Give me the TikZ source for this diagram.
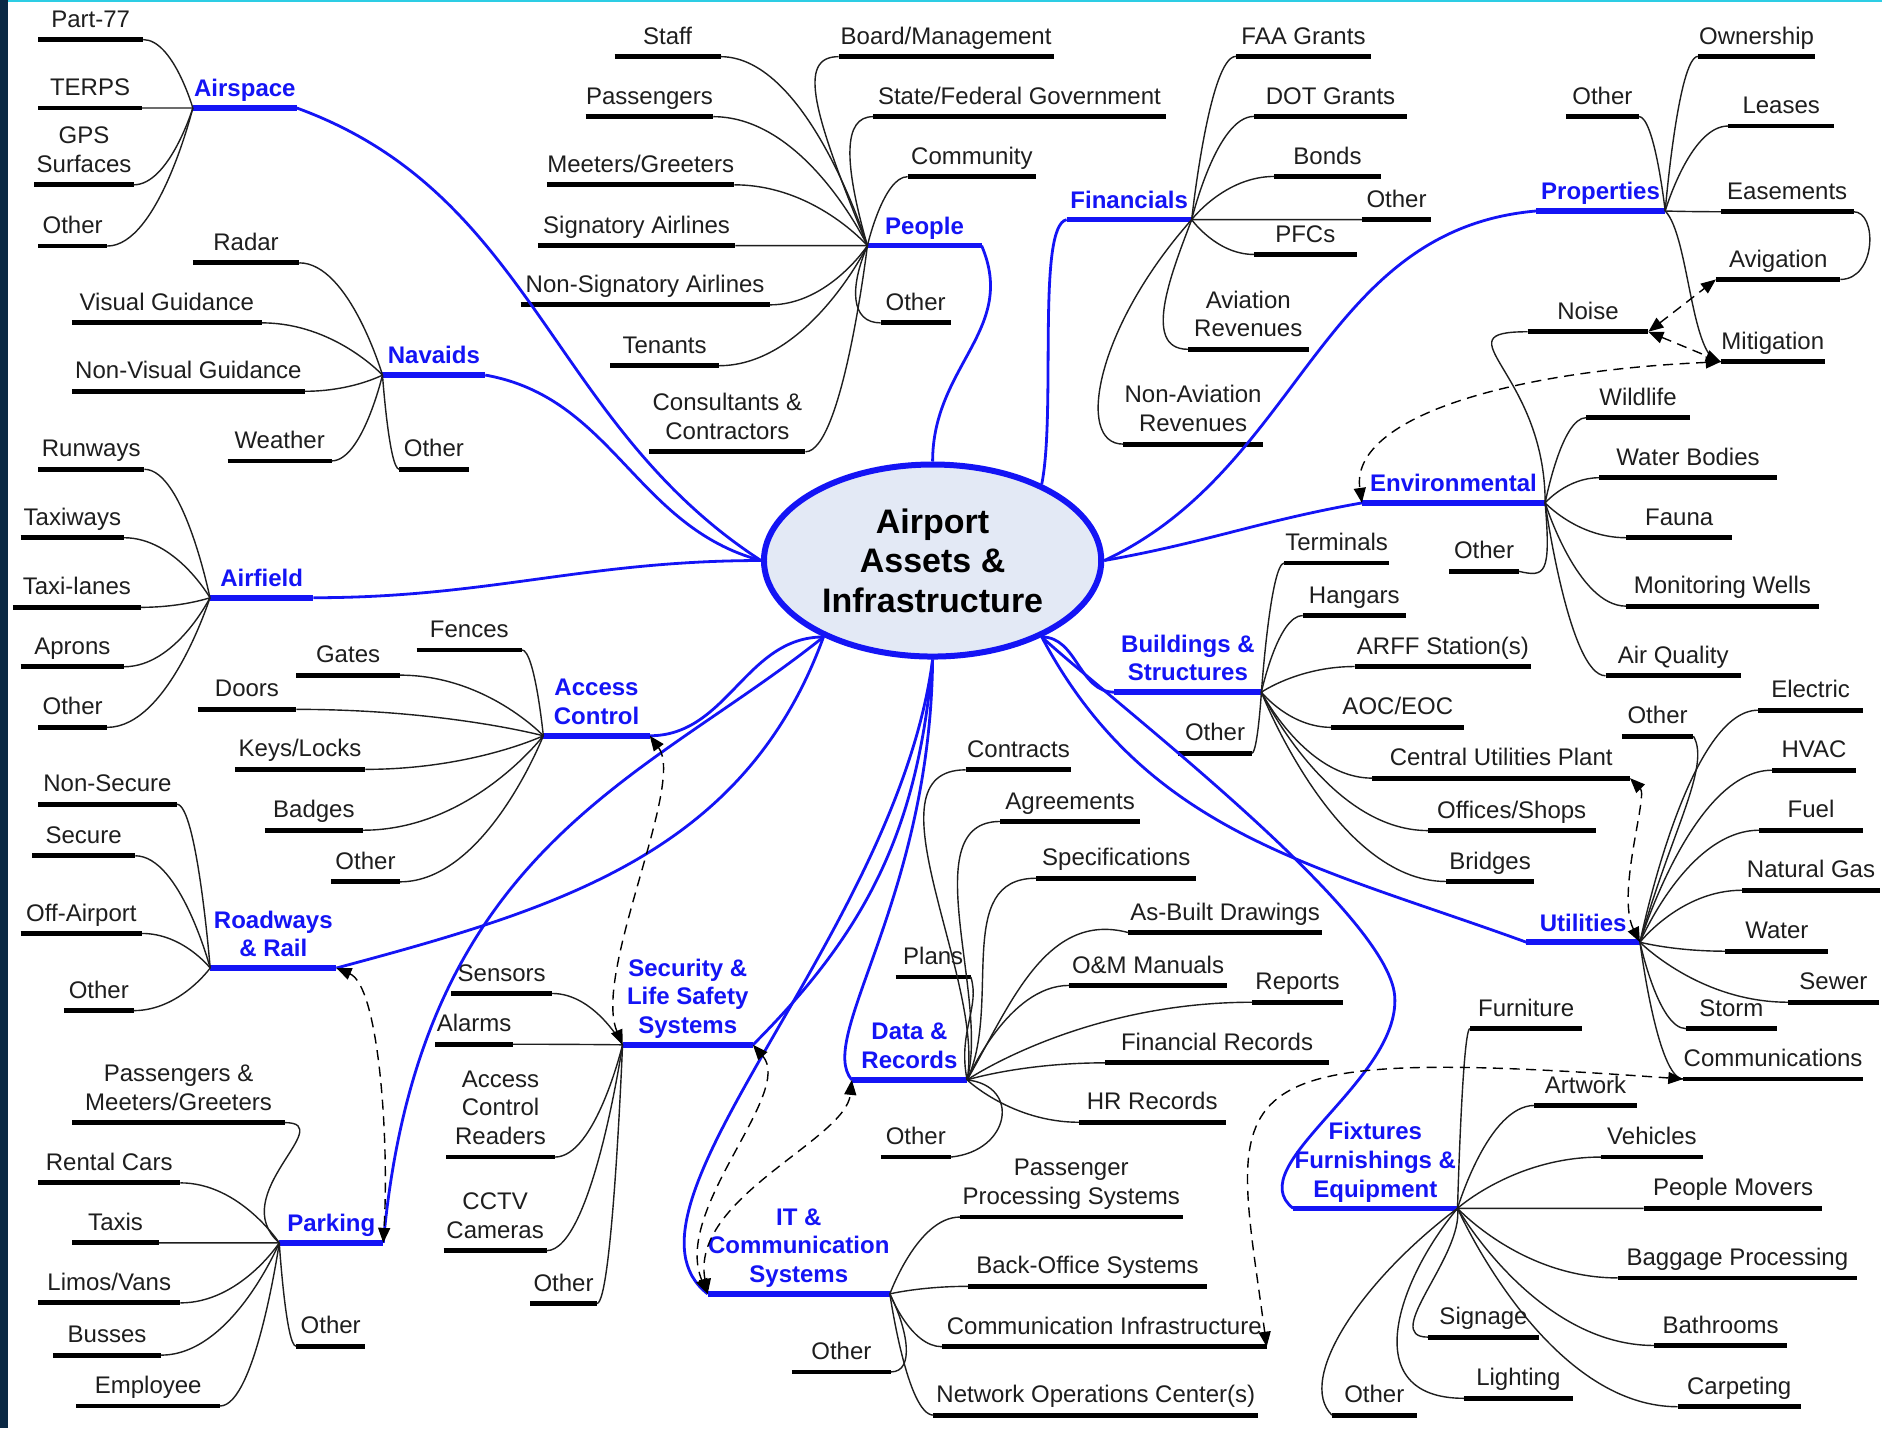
\documentclass[tikz,border=0pt]{standalone}
\usepackage{fontspec}
\setmainfont{Liberation Sans}
\usetikzlibrary{shapes.geometric,arrows.meta,calc}

\definecolor{mapblue}{RGB}{20,20,245}
\definecolor{hubfill}{RGB}{227,233,245}
\definecolor{ink}{RGB}{30,30,30}
\definecolor{framenavy}{RGB}{10,40,68}
\definecolor{framecyan}{RGB}{45,205,228}
\newcommand\mapfont{\fontsize{12}{14.4}\selectfont}

\tikzset{
  tag/.style={anchor=south, font=\mapfont, align=center, inner xsep=0pt, text depth=2.4pt},
  barw/.style={minimum width=#1*0.6pt},
  leaf/.style={tag, text=ink, inner ysep=3.6pt,
    append after command={(\tikzlastnode.south west) edge[draw=black, line width=2.4pt] (\tikzlastnode.south east)}},
  topic/.style={tag, text=mapblue, font=\mapfont\bfseries, inner ysep=3pt,
    append after command={(\tikzlastnode.south west) edge[draw=mapblue, line width=2.8pt] (\tikzlastnode.south east)}},
  rootnode/.style={ellipse, draw=mapblue, line width=3pt, fill=hubfill, minimum width=168.6pt,
    minimum height=96pt, inner sep=0pt, align=center, text=black,
    font=\bfseries\fontsize{17}{19.8}\selectfont},
  twig/.style={draw=ink, line width=0.7pt,
    to path={.. controls (\tikztostart) and ($(\tikztotarget)!0.6!(\tikztostart |- \tikztotarget)$) .. (\tikztotarget)}},
  branch/.style={draw=mapblue, line width=1.4pt},
  link/.style={draw=black, line width=0.7pt, dash pattern=on 5pt off 3.3pt,
    >={Triangle[length=7.5pt,width=6pt]}, <->}
}

\begin{document}
\begin{tikzpicture}[x=0.6pt,y=0.6pt]
  \useasboundingbox (0,0) rectangle (1568,-1190);
  \fill[white] (0,0) rectangle (1568,-1190);
  \fill[framenavy] (0,0) rectangle (7,-1190);
  \fill[framecyan] (7,0) rectangle (1568,-2);

  \node[rootnode] (root) at (777,-467) {Airport\\Assets \&\\Infrastructure};

  % Airspace
  \node[topic, barw=86] (air) at (204,-90) {Airspace};
  \node[leaf, barw=87] (part77) at (75.5,-33) {Part-77};
  \node[leaf, barw=86] (terps) at (75,-90) {TERPS};
  \node[leaf, barw=82] (gps) at (70,-154) {GPS\\Surfaces};
  \node[leaf, barw=57] (airother) at (60.5,-205) {Other};
  % Navaids
  \node[topic, barw=85] (nav) at (361.5,-312.5) {Navaids};
  \node[leaf, barw=88] (radar) at (205,-219) {Radar};
  \node[leaf, barw=157.5] (visual) at (139,-269) {Visual Guidance};
  \node[leaf, barw=193.5] (nonvisual) at (157,-326) {Non-Visual Guidance};
  \node[leaf, barw=86] (weather) at (233,-384) {Weather};
  \node[leaf, barw=57] (navother) at (361.5,-391) {Other};
  % Airfield
  \node[topic, barw=85.5] (field) at (218,-498) {Airfield};
  \node[leaf, barw=88] (runways) at (76,-391) {Runways};
  \node[leaf, barw=85.4] (taxiways) at (60.3,-448) {Taxiways};
  \node[leaf, barw=106] (taxilanes) at (64,-506) {Taxi-lanes};
  \node[leaf, barw=85.4] (aprons) at (60.3,-555.5) {Aprons};
  \node[leaf, barw=57] (fieldother) at (60.5,-606) {Other};
  % Access Control
  \node[topic, barw=88] (acc) at (497,-613) {Access\\Control};
  \node[leaf, barw=87] (fences) at (391,-541.5) {Fences};
  \node[leaf, barw=86] (gates) at (290,-562.5) {Gates};
  \node[leaf, barw=81.5] (doors) at (205.75,-591) {Doors};
  \node[leaf, barw=108] (keys) at (250,-641) {Keys/Locks};
  \node[leaf, barw=81] (badges) at (261.5,-691.7) {Badges};
  \node[leaf, barw=57] (accother) at (304.5,-734.7) {Other};
  % Roadways and rail
  \node[topic, barw=104.5] (road) at (227.7,-806.5) {Roadways\\\& Rail};
  \node[leaf, barw=115] (nonsecure) at (89.5,-670) {Non-Secure};
  \node[leaf, barw=85.4] (secure) at (69.7,-713) {Secure};
  \node[leaf, barw=100.4] (offairport) at (67.8,-777.7) {Off-Airport};
  \node[leaf, barw=57.3] (roadother) at (82.3,-842) {Other};
  % Parking
  \node[topic, barw=86] (park) at (276,-1035.5) {Parking};
  \node[leaf, barw=176.4] (pmg) at (148.8,-935.3) {Passengers \&\\Meeters/Greeters};
  \node[leaf, barw=118] (rental) at (91,-985.5) {Rental Cars};
  \node[leaf, barw=71.4] (taxis) at (96.3,-1035.5) {Taxis};
  \node[leaf, barw=118] (limos) at (91,-1085.5) {Limos/Vans};
  \node[leaf, barw=89.6] (busses) at (89.2,-1129) {Busses};
  \node[leaf, barw=119] (employee) at (123.5,-1171.4) {Employee};
  \node[leaf, barw=57] (parkother) at (275.5,-1121.6) {Other};
  % Security
  \node[topic, barw=108] (sec) at (573,-870.5) {Security \&\\Life Safety\\Systems};
  \node[leaf, barw=83.5] (sensors) at (418,-827.7) {Sensors};
  \node[leaf, barw=64] (alarms) at (395,-870) {Alarms};
  \node[leaf, barw=90] (readers) at (417,-964) {Access\\Control\\Readers};
  \node[leaf, barw=85] (cctv) at (412.5,-1042) {CCTV\\Cameras};
  \node[leaf, barw=55] (secother) at (469.5,-1086) {Other};
  % IT
  \node[topic, barw=151] (it) at (665.5,-1078) {IT \&\\Communication\\Systems};
  \node[leaf, barw=185] (ppsys) at (892.5,-1014) {Passenger\\Processing Systems};
  \node[leaf, barw=198] (backoffice) at (906,-1071.7) {Back-Office Systems};
  \node[leaf, barw=270] (comminfra) at (920,-1122) {Communication Infrastructure};
  \node[leaf, barw=270] (noc) at (913,-1179) {Network Operations Center(s)};
  \node[leaf, barw=82] (itother) at (701,-1143) {Other};
  % Data and records
  \node[topic, barw=95.4] (data) at (757.7,-899.7) {Data \&\\Records};
  \node[leaf, barw=87.5] (contracts) at (848.5,-641.4) {Contracts};
  \node[leaf, barw=116] (agreements) at (891.6,-684.4) {Agreements};
  \node[leaf, barw=133] (specs) at (930,-731.7) {Specifications};
  \node[leaf, barw=160.5] (asbuilt) at (1020.75,-777) {As-Built Drawings};
  \node[leaf, barw=62] (plans) at (777.5,-814) {Plans};
  \node[leaf, barw=131] (om) at (956.5,-821) {O\&M Manuals};
  \node[leaf, barw=74.6] (reports) at (1081,-835) {Reports};
  \node[leaf, barw=186] (finrec) at (1014,-885.5) {Financial Records};
  \node[leaf, barw=121.5] (hr) at (960,-935) {HR Records};
  \node[leaf, barw=57.5] (dataother) at (763,-964) {Other};
  % Fixtures
  \node[topic, barw=136.3] (fix) at (1145.85,-1006.7) {Fixtures\\Furnishings \&\\Equipment};
  \node[leaf, barw=93] (furniture) at (1271.5,-857) {Furniture};
  \node[leaf, barw=84.6] (artwork) at (1321,-921) {Artwork};
  \node[leaf, barw=84.6] (vehicles) at (1376.3,-964) {Vehicles};
  \node[leaf, barw=148.3] (movers) at (1443.9,-1006.7) {People Movers};
  \node[leaf, barw=199] (baggage) at (1447.5,-1064.7) {Baggage Processing};
  \node[leaf, barw=110] (bathrooms) at (1433.5,-1121) {Bathrooms};
  \node[leaf, barw=102] (carpeting) at (1449,-1172) {Carpeting};
  \node[leaf, barw=92] (signage) at (1236,-1114) {Signage};
  \node[leaf, barw=90] (lighting) at (1265,-1165) {Lighting};
  \node[leaf, barw=70] (fixother) at (1145,-1179) {Other};
  % Utilities
  \node[topic, barw=94] (util) at (1319,-785) {Utilities};
  \node[leaf, barw=59] (utilother) at (1381,-613.3) {Other};
  \node[leaf, barw=87] (electric) at (1508.5,-591.7) {Electric};
  \node[leaf, barw=69.3] (hvac) at (1511.35,-641.7) {HVAC};
  \node[leaf, barw=85.7] (fuel) at (1508.85,-691.7) {Fuel};
  \node[leaf, barw=114.3] (natgas) at (1508.85,-741.7) {Natural Gas};
  \node[leaf, barw=85.2] (water) at (1480.4,-792.5) {Water};
  \node[leaf, barw=75] (sewer) at (1527.5,-835) {Sewer};
  \node[leaf, barw=75] (storm) at (1442.5,-857) {Storm};
  \node[leaf, barw=148.5] (communications) at (1477.25,-899) {Communications};
  % Buildings
  \node[topic, barw=121.8] (bld) at (989.7,-576.7) {Buildings \&\\Structures};
  \node[leaf, barw=86.4] (terminals) at (1113.6,-469) {Terminals};
  \node[leaf, barw=85.3] (hangars) at (1128.35,-512.8) {Hangars};
  \node[leaf, barw=146.4] (arff) at (1202.2,-555.3) {ARFF Station(s)};
  \node[leaf, barw=110] (aoc) at (1164.6,-606) {AOC/EOC};
  \node[leaf, barw=214] (cup) at (1250.7,-648.3) {Central Utilities Plant};
  \node[leaf, barw=139] (offices) at (1259.5,-692) {Offices/Shops};
  \node[leaf, barw=73] (bridges) at (1241.5,-734.4) {Bridges};
  \node[leaf, barw=60.6] (bldother) at (1012.3,-627.5) {Other};
  % Environmental
  \node[topic, barw=152] (env) at (1211,-419) {Environmental};
  \node[leaf, barw=100] (noise) at (1323,-276.4) {Noise};
  \node[leaf, barw=86] (wildlife) at (1364.75,-348) {Wildlife};
  \node[leaf, barw=147.2] (waterbodies) at (1406.4,-398) {Water Bodies};
  \node[leaf, barw=88] (fauna) at (1399,-448) {Fauna};
  \node[leaf, barw=160] (wells) at (1435,-505) {Monitoring Wells};
  \node[leaf, barw=112] (airq) at (1394,-563) {Air Quality};
  \node[leaf, barw=57.2] (envother) at (1236.4,-476) {Other};
  % Properties
  \node[topic, barw=107] (prop) at (1333.5,-175.8) {Properties};
  \node[leaf, barw=97] (ownership) at (1463.5,-47) {Ownership};
  \node[leaf, barw=60] (propother) at (1335,-97) {Other};
  \node[leaf, barw=88] (leases) at (1484,-105) {Leases};
  \node[leaf, barw=110] (easements) at (1489,-176.4) {Easements};
  \node[leaf, barw=103] (avigation) at (1481.5,-232.8) {Avigation};
  \node[leaf, barw=86] (mitigation) at (1477,-301.4) {Mitigation};
  % Financials
  \node[topic, barw=103.5] (fin) at (940.75,-183) {Financials};
  \node[leaf, barw=112] (faa) at (1086,-47) {FAA Grants};
  \node[leaf, barw=127] (dot) at (1108.5,-97) {DOT Grants};
  \node[leaf, barw=88] (bonds) at (1106,-147) {Bonds};
  \node[leaf, barw=57] (finother) at (1163.5,-183) {Other};
  \node[leaf, barw=85] (pfcs) at (1087.5,-212) {PFCs};
  \node[leaf, barw=100] (avrev) at (1040,-291) {Aviation\\Revenues};
  \node[leaf, barw=116] (nonavrev) at (994,-370) {Non-Aviation\\Revenues};
  % People
  \node[topic, barw=94.5] (peo) at (770.25,-204.7) {People};
  \node[leaf, barw=87.5] (staff) at (556.25,-47.2) {Staff};
  \node[leaf, barw=178.5] (board) at (788.25,-47.2) {Board/Management};
  \node[leaf, barw=105.4] (passengers) at (541.1,-97.2) {Passengers};
  \node[leaf, barw=243.3] (statefed) at (849.35,-97.2) {State/Federal Government};
  \node[leaf, barw=155.6] (meeters) at (533.8,-154) {Meeters/Greeters};
  \node[leaf, barw=106.5] (community) at (809.75,-147.2) {Community};
  \node[leaf, barw=163.8] (signatory) at (530.4,-204.7) {Signatory Airlines};
  \node[leaf, barw=207] (nonsig) at (537.5,-254) {Non-Signatory Airlines};
  \node[leaf, barw=57.7] (peoother) at (762.85,-269) {Other};
  \node[leaf, barw=89.8] (tenants) at (553.7,-304.7) {Tenants};
  \node[leaf, barw=129.4] (consultants) at (606,-376.4) {Consultants \&\\Contractors};

  % Main branches
  \draw[branch] (air.south east) to[out=-20,in=147] (root.180);
  \draw[branch] (nav.south east) to[out=-10,in=165] (root.180);
  \draw[branch] (field.south east) to[out=0,in=180] (root.180);
  \draw[branch] (acc.south east) to[out=0,in=180] (root.215);
  \draw[branch] (road.south east) to[out=15,in=250] (root.215);
  \draw[branch] (park.south east) .. controls +(30,330) and +(-150,-120) .. (root.215);
  \draw[branch] (sec.south east) to[out=45,in=265] (root.270);
  \draw[branch] (it.south west) .. controls +(-90,70) and +(-30,-230) .. (root.270);
  \draw[branch] (data.south west) .. controls +(-30,35) and +(-2,-200) .. (root.270);
  \draw[branch] (fix.south west) .. controls +(-45,35) and +(5,-70) .. (1162,-830)
    .. controls +(-5,70) and +(60,-55) .. (root.325);
  \draw[branch] (util.south west) to[out=160,in=-62] (root.325);
  \draw[branch] (bld.south west) to[out=180,in=0] (root.325);
  \draw[branch] (env.south west) to[out=190,in=10] (root.0);
  \draw[branch] (prop.south west) to[out=185,in=25] (root.0);
  \draw[branch] (fin.south west) .. controls +(-25,-5) and +(12,60) .. (root.35);
  \draw[branch] (peo.south east) .. controls +(30,-70) and +(0,80) .. (root.90);

  % Leaves on the left of their topic
  \foreach \from/\to in {air/part77, air/terps, air/gps, air/airother,
      nav/radar, nav/visual, nav/nonvisual, nav/weather,
      field/runways, field/taxiways, field/taxilanes, field/aprons, field/fieldother,
      acc/fences, acc/gates, acc/doors, acc/keys, acc/badges, acc/accother,
      road/nonsecure, road/secure, road/offairport, road/roadother,
      park/rental, park/taxis, park/limos, park/busses, park/employee,
      sec/sensors, sec/alarms, sec/readers, sec/cctv, sec/secother,
      peo/staff, peo/passengers, peo/meeters, peo/signatory, peo/nonsig,
      peo/tenants, peo/consultants}
    \draw[twig] (\from.south west) to (\to.south east);
  % Leaves on the right of their topic
  \foreach \from/\to in {it/ppsys, it/backoffice, it/comminfra, it/noc,
      data/om, data/reports, data/finrec, data/hr,
      fix/furniture, fix/artwork, fix/vehicles, fix/movers, fix/baggage,
      fix/bathrooms, fix/carpeting,
      util/electric, util/hvac, util/fuel, util/natgas, util/water,
      util/sewer, util/storm, util/communications,
      bld/terminals, bld/hangars, bld/arff, bld/aoc, bld/cup, bld/offices, bld/bridges,
      env/wildlife, env/waterbodies, env/fauna, env/wells, env/airq,
      prop/ownership, prop/leases, prop/easements,
      fin/faa, fin/dot, fin/bonds, fin/finother, fin/pfcs}
    \draw[twig] (\from.south east) to (\to.south west);
  \foreach \from/\to in {nav/navother, park/parkother, peo/community}
    \draw[twig] (\from.south west) to (\to.south west);
  \foreach \from/\to in {bld/bldother, prop/propother}
    \draw[twig] (\from.south east) to (\to.south east);

  % Curves that loop back
  \draw[twig] (park.south west) .. controls +(-45,40) and +(45,0) .. (pmg.south east);
  \draw[twig] (peo.south west) .. controls +(-45,110) and +(-35,0) .. (board.south west);
  \draw[twig] (peo.south west) .. controls +(-20,70) and +(-25,0) .. (statefed.south west);
  \draw[twig] (peo.south west) .. controls +(-15,-35) and +(-25,0) .. (peoother.south west);
  \draw[twig] (it.south east) .. controls +(15,-30) and +(20,0) .. (itother.south east);
  \draw[twig] (data.south east) to[out=80,in=180,looseness=0.85] (contracts.south west);
  \draw[twig] (data.south east) to[out=75,in=180,looseness=0.85] (agreements.south west);
  \draw[twig] (data.south east) to[out=65,in=180] (specs.south west);
  \draw[twig] (data.south east) to[out=60,in=165] (asbuilt.south west);
  \draw[twig] (data.south east) .. controls +(-8,40) and +(8,-25) .. (plans.south east);
  \draw[twig] (data.south east) .. controls +(45,-5) and +(50,5) .. (dataother.south east);
  \draw[twig] (fix.south east) .. controls +(5,-40) and +(-40,0) .. (signage.south west);
  \draw[twig] (fix.south east) .. controls +(-50,-60) and +(-90,0) .. (lighting.south west);
  \draw[twig] (fix.south east) .. controls +(-80,-60) and +(-30,30) .. (fixother.south west);
  \draw[twig] (util.south east) .. controls +(25,90) and +(15,-25) .. (utilother.south east);
  \draw[twig] (env.south east) .. controls +(0,110) and +(-75,0) .. (noise.south west);
  \draw[twig] (env.south east) .. controls +(5,-60) and +(22,-5) .. (envother.south east);
  \draw[twig] (prop.south east) .. controls +(20,-20) and +(-25,0) .. (mitigation.south west);
  \draw[twig] (easements.south east) .. controls +(20,0) and +(30,0) .. (avigation.south east);
  \draw[twig] (fin.south east) .. controls +(-15,-40) and +(-40,0) .. (avrev.south west);
  \draw[twig] (fin.south east) .. controls +(-80,-90) and +(-40,0) .. (nonavrev.south west);

  % Dashed cross links
  \draw[link] (acc.south east) .. controls +(30,-40) and +(-25,60) .. (sec.south west);
  \draw[link] (road.south east) .. controls +(35,-15) and +(5,90) .. (park.south east);
  \draw[link] (sec.south east) .. controls +(35,-40) and +(-30,70) .. (it.south west);
  \draw[link] (it.south west) .. controls +(-15,80) and +(-5,-50) .. (data.south west);
  \draw[link] (cup.south east) .. controls +(15,-15) and +(-20,40) .. (util.south east);
  \draw[link] (noise.south east) -- (avigation.south west);
  \draw[link] (noise.south east) -- (mitigation.south west);
  \draw[link] (mitigation.south west) .. controls +(-180,-8) and +(-10,70) .. (env.south west);
  \draw[link] (communications.south west) .. controls +(-403,29) and +(-30,222) .. (comminfra.south east);
\end{tikzpicture}
\end{document}
